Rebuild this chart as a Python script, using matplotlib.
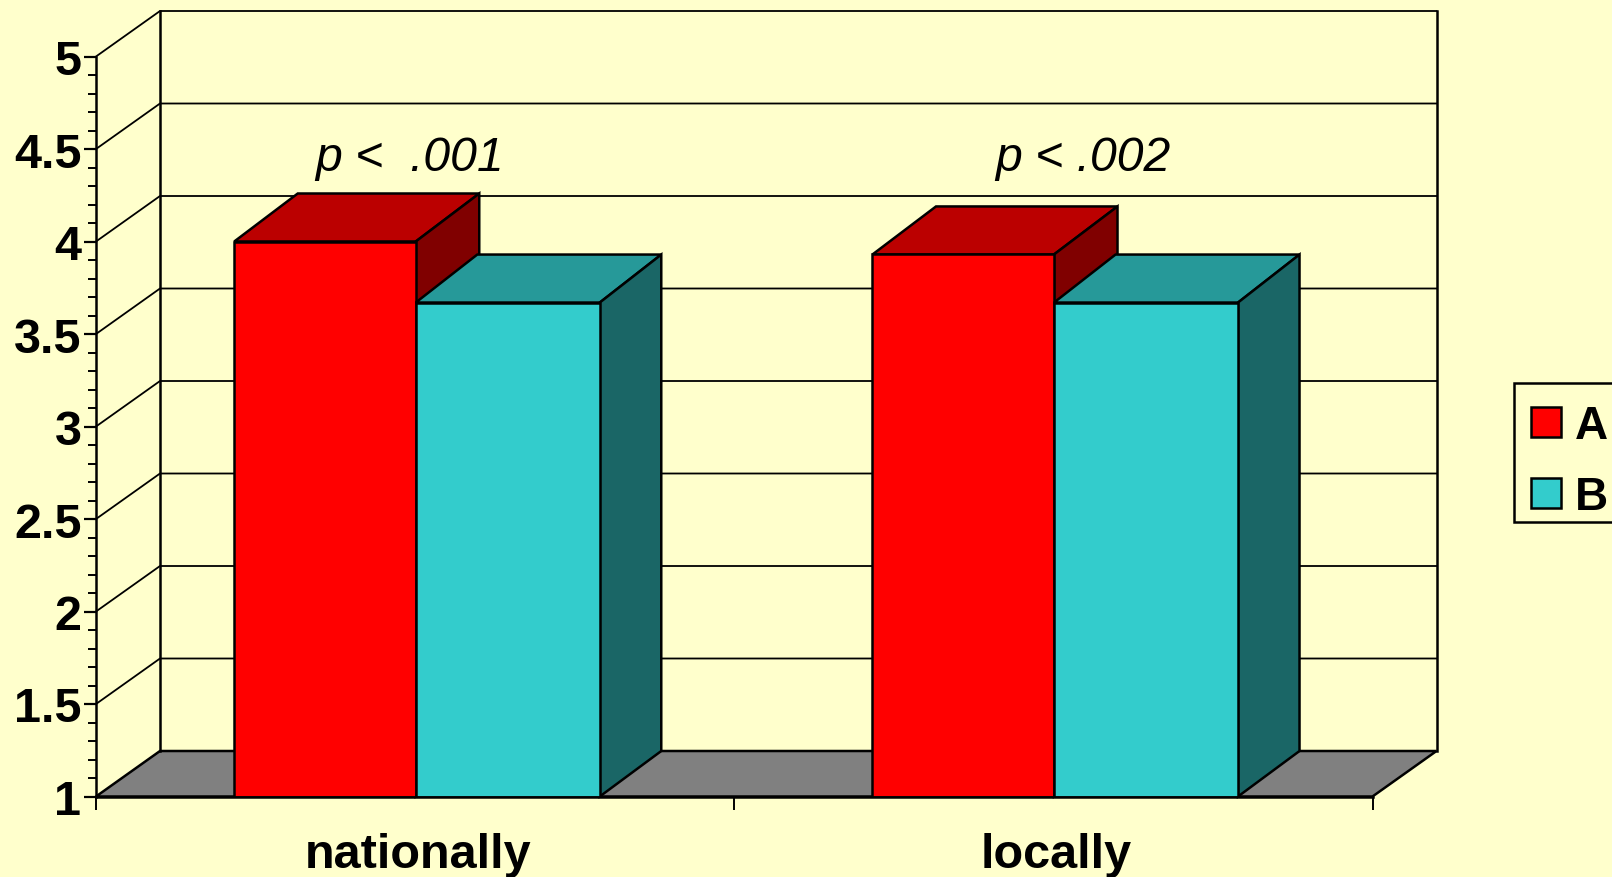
import matplotlib
matplotlib.use('Agg')
import matplotlib.pyplot as plt
from matplotlib.legend_handler import HandlerPatch
from matplotlib.patches import Polygon, Patch, Rectangle
import numpy as np

categorias = ['nationally', 'locally']
valores_a = [4.0, 3.93]
valores_b = [3.67, 3.67]
yticks = [1, 1.5, 2, 2.5, 3, 3.5, 4, 4.5, 5]
ytick_labels = ['1', '1.5', '2', '2.5', '3', '3.5', '4', '4.5', '5']
anotacoes = ['p <  .001', 'p < .002']

FUNDO = '#FFFFCC'
L, R, T, B = 96, 1372.5, 57.5, 797.5   # front plane in pixels
W, H = 1612, 878

plt.rcParams['font.family'] = ['Liberation Sans', 'DejaVu Sans']

fig = plt.figure(figsize=(W / 100, H / 100), dpi=100, facecolor=FUNDO)
ax = fig.add_axes([L / W, 1 - B / H, (R - L) / W, (B - T) / H])
ax.patch.set_alpha(0)
ax.set_xlim(0, 2)
ax.set_ylim(1, 5)

# 3D depth, in data units
px_x = 2 / (R - L)
px_y = 4 / (B - T)
dx = 64 * px_x
dy = 45.5 * px_y
topo_dy = 48 * px_y   # bar tops lean a little more than the floor does
largura_a = 0.2844
largura_b = 0.2883
lw = 1.8


def poligono(pts, cor, z):
    ax.add_patch(Polygon(pts, closed=True, facecolor=cor, edgecolor='black',
                         linewidth=lw, zorder=z, clip_on=False, joinstyle='miter'))


# floor and walls
poligono([(0, 1), (2, 1), (2 + dx, 1 + dy), (dx, 1 + dy)], '#808080', 1)
for v in yticks[1:]:
    ax.plot([0, dx, 2 + dx], [v, v + dy, v + dy], color='black', lw=1.3, zorder=1.5, clip_on=False)
ax.plot([dx, dx], [1 + dy, 5 + dy], color='black', lw=lw, zorder=1.5, clip_on=False)
ax.plot([2 + dx, 2 + dx], [1 + dy, 5 + dy], color='black', lw=lw, zorder=1.5, clip_on=False)

centros = np.array([0.501, 1.501])


def barras_3d(xs, valores, largura, prof, frente, topo, lado, z):
    ax.bar(xs, np.array(valores) - 1, largura, bottom=1, color=frente, edgecolor='black',
           linewidth=lw, align='edge', zorder=z + 0.2)
    for x, v in zip(xs, valores):
        x2 = x + largura
        poligono([(x, v), (x2, v), (x2 + prof, v + topo_dy), (x + prof, v + topo_dy)], topo, z)
        poligono([(x2, 1), (x2 + prof, 1 + dy), (x2 + prof, v + topo_dy), (x2, v)], lado, z)


# red first: the cyan bar hides the red side face
barras_3d(centros - largura_a, valores_a, largura_a, 63.5 * px_x, '#FF0000', '#BB0000', '#800000', 2)
barras_3d(centros, valores_b, largura_b, 61.5 * px_x, '#33CCCC', '#269999', '#1A6666', 3)

# eixos
for s in ['top', 'right']:
    ax.spines[s].set_visible(False)
for s in ['left', 'bottom']:
    ax.spines[s].set_linewidth(lw)
    ax.spines[s].set_zorder(5)

ax.set_yticks(yticks)
ax.set_yticklabels(ytick_labels, fontsize=35, fontweight='bold')
ax.set_yticks(np.arange(1, 5.01, 0.1), minor=True)
ax.tick_params(axis='y', which='major', length=9, width=1.6, pad=1.5)
ax.tick_params(axis='y', which='minor', length=6, width=1.4)

ax.set_xticks([0, 1, 2])
ax.set_xticklabels([])
ax.set_xticks([0.504, 1.504], minor=True)
ax.set_xticklabels(categorias, minor=True, fontsize=35, fontweight='bold')
ax.tick_params(axis='x', which='major', length=9, width=1.4)
ax.tick_params(axis='x', which='minor', length=0, pad=25.5)

# p-values over the groups
for x, txt in zip([0.4916, 1.5465], anotacoes):
    ax.text(x, 4.385, txt, fontsize=34.7, fontstyle='italic', ha='center', va='baseline')

# legend frame is lopsided in the reference, so it gets its own rectangle
fig.add_artist(Rectangle((1514 / W, 1 - 523 / H), 120 / W, 139 / H, transform=fig.transFigure,
                         facecolor=FUNDO, edgecolor='black', linewidth=lw))
handles = [Patch(facecolor='#FF0000', edgecolor='black', linewidth=lw, label='A'),
           Patch(facecolor='#33CCCC', edgecolor='black', linewidth=lw, label='B')]
leg = fig.legend(handles=handles, loc='upper left', bbox_to_anchor=(1514 / W, 1 - 391.5 / H),
                 bbox_transform=fig.transFigure, borderaxespad=0, frameon=False,
                 handlelength=0.72, handleheight=0.64, handletextpad=0.3, borderpad=0.3,
                 labelspacing=0.58, prop={'weight': 'bold', 'size': 33},
                 handler_map={Patch: HandlerPatch(xpad=0.08)})

fig.savefig('out.png', dpi=100, facecolor=FUNDO)
